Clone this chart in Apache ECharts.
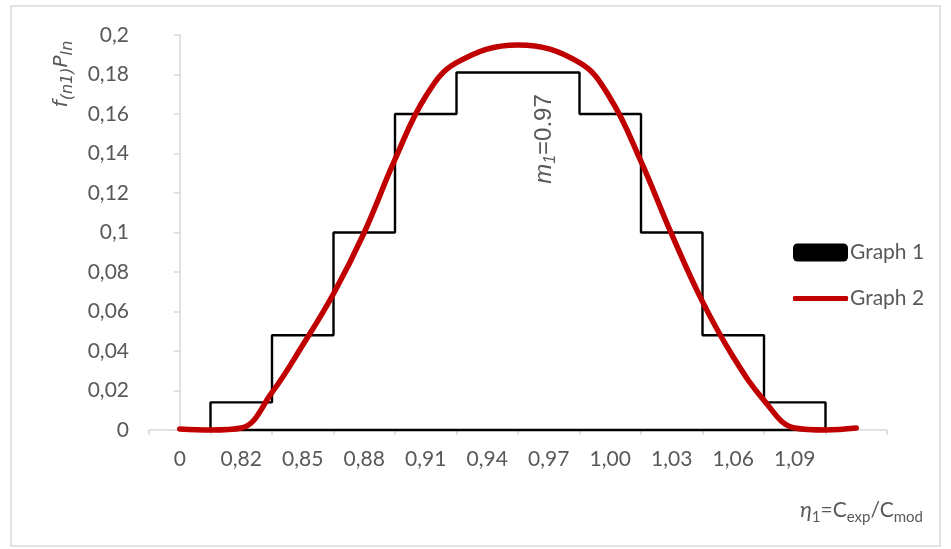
<!DOCTYPE html>
<html>
<head>
<meta charset="utf-8">
<script src="https://cdn.jsdelivr.net/npm/echarts@6/dist/echarts.min.js"></script>
<style>
html,body{margin:0;padding:0;background:#fff;}
#chart{width:951px;height:549px;}
</style>
</head>
<body>
<div id="chart"></div>
<script>
// Category labels of the x axis (last slot is empty)
const categories = ['0','0,82','0,85','0,88','0,91','0,94','0,97','1,00','1,03','1,06','1,09',''];
// Histogram (Graph 1): bin centres as category index, bin heights
const binCenters = [1,2,3,4,5,6,7,8,9,10];
const binHeights = [0.014,0.048,0.1,0.16,0.181,0.181,0.16,0.1,0.048,0.014];
// Smooth curve (Graph 2): positions in category-index units and values
const curveX = [0,0.5,1,1.5,2,2.5,3,3.5,4,4.5,5.5,6.5,7,7.5,8,8.5,9,9.5,10,10.5,11];
const curveY = [0.0005,0,0.001,0.019,0.043,0.069,0.1,0.137,0.169,0.186,0.195,0.186,0.168,0.136,0.099,0.065,0.037,0.015,0.001,0,0.001];
// Y tick labels
const yTickLabels = ['0','0,02','0,04','0,06','0,08','0,1','0,12','0,14','0,16','0,18','0,2'];

const histPts = [[binCenters[0]-0.5, 0]];
binCenters.forEach((c,i)=>{ histPts.push([c-0.5, binHeights[i]]); histPts.push([c+0.5, binHeights[i]]); });
histPts.push([binCenters[binCenters.length-1]+0.5, 0]);
histPts.push([binCenters[0]-0.5, 0]);
const curvePts = curveX.map((x,i)=>[x, curveY[i]]);

const FONT = 'Lato';
const GREY = '#595959';
const AXIS = '#d9d9d9';

const chart = echarts.init(document.getElementById('chart'));
chart.setOption({
  backgroundColor:'#fff',
  animation:false,
  grid:{left:149, right:64, top:35, bottom:119, containLabel:false},
  xAxis:[
    {type:'category', data:categories, boundaryGap:true, position:'bottom',
     axisLine:{lineStyle:{color:AXIS, width:1.5}},
     axisTick:{show:true, length:5, lineStyle:{color:AXIS, width:1.5}},
     axisLabel:{color:GREY, fontFamily:FONT, fontSize:21, margin:19, interval:0},
     splitLine:{show:false}},
    {type:'value', min:-0.5, max:11.5, show:false, splitLine:{show:false}}
  ],
  yAxis:{type:'value', min:0, max:0.2, interval:0.02,
    axisLine:{show:true, lineStyle:{color:AXIS, width:1.5}},
    axisTick:{show:true, length:6, lineStyle:{color:AXIS, width:1.5}},
    axisLabel:{color:GREY, fontFamily:FONT, fontSize:21, margin:20,
      formatter:(v)=>yTickLabels[Math.round(v/0.02)]},
    splitLine:{show:false}},
  legend:[
    {data:[{name:'Graph 1', icon:'roundRect'}], left:793, top:242, padding:0, itemWidth:55, itemHeight:18, itemGap:0,
     textStyle:{color:GREY, fontFamily:FONT, fontSize:21, padding:[0,0,0,-3]}, itemStyle:{borderWidth:0}},
    {data:[{name:'Graph 2', icon:'roundRect'}], left:793, top:288, padding:0, itemWidth:55, itemHeight:5, itemGap:0,
     textStyle:{color:GREY, fontFamily:FONT, fontSize:21, padding:[0,0,0,-3]}, itemStyle:{borderWidth:0}}
  ],
  series:[
    {name:'Graph 1', type:'line', xAxisIndex:1, data:histPts, showSymbol:false, clip:false,
     color:'#000', lineStyle:{color:'#000', width:2.4}, itemStyle:{color:'#000'}, z:2},
    {name:'Graph 2', type:'line', xAxisIndex:1, data:curvePts, showSymbol:false, smooth:0.4, clip:false,
     color:'#c00000', lineStyle:{color:'#c00000', width:5.5, cap:'round', join:'round'}, itemStyle:{color:'#c00000'}, z:3}
  ],
  graphic:[
    {type:'rect', shape:{x:11, y:6, width:929, height:540}, style:{fill:'none', stroke:AXIS, lineWidth:1.5}, silent:true, z:-1},
    {type:'text', x:62, y:74, rotation:Math.PI/2,
     style:{text:'{a|f}{b|(n1)}{a|P}{b|In}', align:'center', verticalAlign:'middle',
       rich:{a:{fontFamily:'DejaVu Sans', fontStyle:'italic', fontSize:20, fill:GREY, lineHeight:28, verticalAlign:'middle'},
             b:{fontFamily:'DejaVu Sans', fontStyle:'italic', fontSize:16, fill:GREY, lineHeight:28, verticalAlign:'bottom'}}}},
    {type:'text', x:544, y:139, rotation:Math.PI/2,
     style:{text:'{a|m}{b|1}{c|=0.97}', align:'center', verticalAlign:'middle',
       rich:{a:{fontFamily:'Liberation Sans', fontStyle:'italic', fontSize:24, fill:GREY, lineHeight:30},
             b:{fontFamily:'Liberation Sans', fontStyle:'italic', fontSize:16, fill:GREY, lineHeight:30, verticalAlign:'bottom'},
             c:{fontFamily:'Liberation Sans', fontSize:24, fill:GREY, lineHeight:30}}}},
    {type:'text', x:923, y:510,
     style:{text:'{a|η}{b|1}{c|=C}{b|exp}{c|/C}{b|mod}', align:'right', verticalAlign:'middle',
       rich:{a:{fontFamily:FONT, fontStyle:'italic', fontSize:22, fill:GREY, lineHeight:30},
             b:{fontFamily:FONT, fontSize:15, fill:GREY, lineHeight:30, verticalAlign:'bottom'},
             c:{fontFamily:FONT, fontSize:21, fill:GREY, lineHeight:30}}}}
  ]
});
</script>
</body>
</html>
